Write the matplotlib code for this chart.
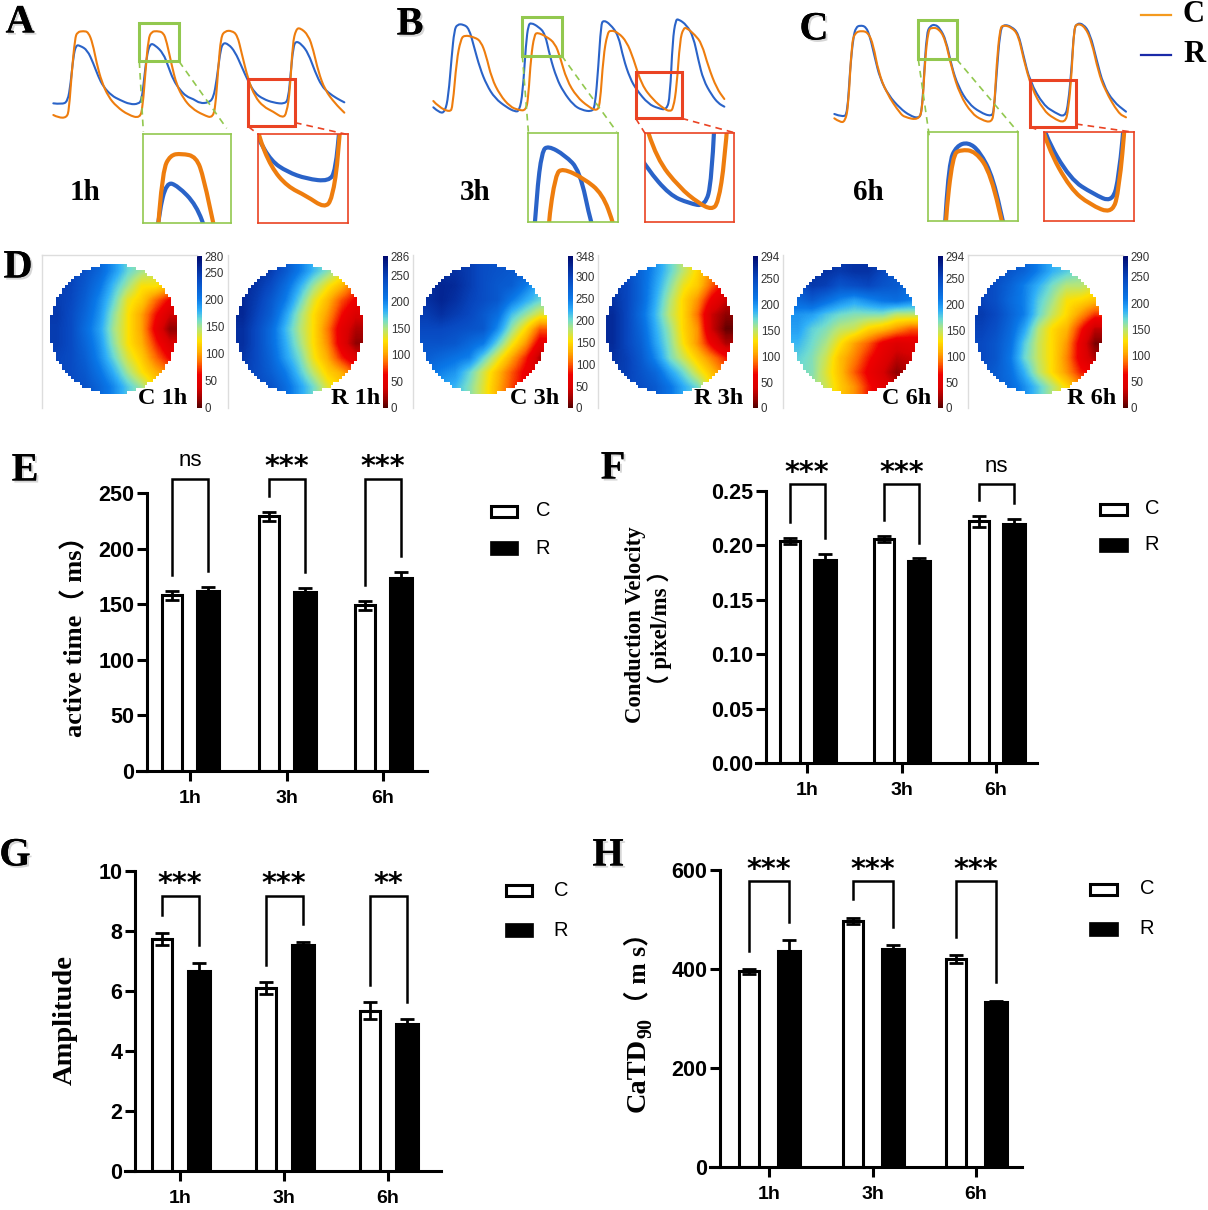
import numpy as np
import matplotlib
matplotlib.use('Agg')
import matplotlib.pyplot as plt
import matplotlib.patheffects as pe
from matplotlib.colors import LinearSegmentedColormap, ListedColormap
from matplotlib.patches import Rectangle, PathPatch
from matplotlib.path import Path

W, H = 1208, 1210

# traces (time, signal in arbitrary units, signal axis points down)
a_r_t = [160,185,203,212,220,228,240,262,280,295,310,335,360,390,415,425,432,440,450,465,490,505,520,540,560,580,600,625,640,650,660,668,685,705,725,745,765,790,820,855,865,872,880,888,905,925,945,965,985,1010,1033]
a_r_v = [310,313,305,250,170,135,137,150,190,230,260,287,300,313,312,300,240,170,130,135,160,200,240,270,290,297,310,308,295,240,160,128,132,155,200,245,280,297,308,312,295,220,140,123,133,160,215,258,278,295,307]
a_c_t = [160,175,200,207,215,225,232,250,265,278,290,305,325,350,385,420,428,436,445,455,470,490,500,515,530,550,575,610,640,648,655,663,675,695,712,725,745,765,790,820,848,860,870,878,888,900,925,940,955,975,1005,1033]
a_c_v = [345,353,353,330,220,115,96,93,96,130,190,245,290,320,345,355,320,220,115,95,93,97,125,195,255,295,325,345,355,300,200,110,93,92,105,160,240,290,320,335,354,340,270,130,88,83,105,150,215,270,310,338]

b_r_t = [100,120,135,145,155,163,172,190,207,222,240,260,285,320,345,358,368,378,385,393,415,435,450,470,490,520,545,575,585,595,603,610,630,655,670,690,710,745,775,800,810,818,827,835,860,880,895,910,935,955,973]
b_r_v = [322,340,335,290,170,90,73,73,85,140,205,255,295,322,335,333,280,130,75,68,80,100,170,235,275,315,330,335,320,200,75,60,72,105,175,235,270,312,325,330,290,120,60,57,75,110,180,240,285,310,320]
b_c_t = [100,115,150,158,170,182,192,225,243,258,275,300,330,355,378,385,393,403,412,440,465,480,500,530,565,590,600,610,622,632,655,680,700,725,760,790,810,820,830,840,850,860,885,905,925,950,973]
b_c_v = [303,320,337,320,180,120,105,112,125,165,235,285,320,330,332,290,170,105,97,110,130,170,240,290,320,333,315,170,100,90,98,125,175,255,300,325,335,325,260,120,85,83,105,130,200,265,297]

c_r_t = [133,160,172,180,190,198,210,228,240,255,270,295,330,360,385,395,402,410,420,435,450,468,485,505,535,570,605,612,620,630,640,665,685,700,720,760,795,825,835,845,852,860,880,900,920,940,970,1008]
c_r_v = [342,352,340,210,110,82,76,80,110,175,235,285,325,347,355,340,230,100,78,73,85,120,200,260,310,337,350,330,220,95,73,80,100,165,245,315,338,352,310,200,90,70,72,100,180,255,305,335]
c_c_t = [133,150,165,175,185,195,215,235,250,265,290,330,345,385,397,405,415,425,445,465,485,510,545,575,605,612,620,630,640,665,685,700,725,760,790,825,835,845,852,862,885,905,925,945,985,1008]
c_c_v = [355,367,365,320,130,98,92,98,135,215,280,340,352,360,330,180,90,83,85,115,205,285,340,360,368,335,190,85,75,82,105,175,265,330,355,370,330,220,85,70,80,125,215,270,340,352]

# bar panels
hours = ['1h', '3h', '6h']
e_c = [158, 229, 149]
e_c_err = [4, 4, 4]
e_r = [162, 161, 174]
e_r_err = [3.5, 3.5, 5]
f_c = [0.204, 0.206, 0.222]
f_c_err = [0.003, 0.003, 0.005]
f_r = [0.187, 0.186, 0.220]
f_r_err = [0.005, 0.002, 0.004]
g_c = [7.75, 6.1, 5.35]
g_c_err = [0.2, 0.2, 0.27]
g_r = [6.68, 7.55, 4.9]
g_r_err = [0.25, 0.1, 0.17]
h_c = [395, 497, 420]
h_c_err = [5, 6, 8]
h_r = [437, 440, 333]
h_r_err = [22, 8, 3]

# bracket: left foot, top, right foot per group, and the star text
e_brackets = [(176, 263, 180, 'ns'), (247, 263, 179, '***'), (167, 263, 193, '***')]
f_brackets = [(0.2215, 0.2565, 0.207, '***'), (0.223, 0.2565, 0.202, '***'), (0.242, 0.2565, 0.239, 'ns')]
g_brackets = [(8.53, 9.17, 7.53, '***'), (6.87, 9.17, 8.23, '***'), (6.2, 9.17, 5.63, '**')]
h_brackets = [(436, 577, 495, '***'), (541, 577, 484, '***'), (464, 577, 373, '***')]

# activation maps, 9 x 9 samples across the disc (ms)
map_c1 = [[240,240,230,215,190,165,150,140,130],
          [245,240,225,205,175,150,125,125,110],
          [245,238,220,195,165,130,115,85,60],
          [248,235,215,190,155,125,100,65,35],
          [245,235,210,185,150,125,100,55,15],
          [245,235,215,190,155,125,105,70,40],
          [240,235,220,195,165,135,115,85,60],
          [240,235,225,205,180,150,125,105,90],
          [240,235,230,215,195,170,150,120,100]]
map_r1 = [[265,260,250,230,205,180,160,140,125],
          [265,255,240,215,185,155,130,110,80],
          [265,250,230,205,170,135,110,80,60],
          [265,245,225,190,155,125,100,65,40],
          [260,240,215,180,150,125,90,50,25],
          [260,240,215,185,155,125,95,50,15],
          [255,240,220,190,165,130,105,70,45],
          [250,240,225,205,175,145,120,105,80],
          [245,240,235,215,190,165,135,120,100]]
map_c3 = [[310,315,315,305,290,285,280,275,250],
          [315,325,320,305,290,280,275,250,220],
          [315,325,315,300,290,280,250,225,205],
          [305,315,305,295,280,260,215,190,165],
          [295,295,290,285,280,240,190,150,100],
          [285,285,280,265,250,205,160,120,65],
          [275,265,255,245,205,165,125,85,30],
          [260,245,235,205,170,135,100,70,50],
          [240,230,220,195,165,130,95,70,60]]
map_r3 = [[255,245,225,200,175,150,125,100,85],
          [260,250,225,195,165,135,120,85,60],
          [265,250,225,190,155,125,100,60,35],
          [270,250,220,185,150,125,90,35,15],
          [270,250,225,190,160,125,100,35,5],
          [270,250,230,195,165,130,100,60,25],
          [265,255,235,205,170,145,120,95,70],
          [260,255,240,225,195,170,140,115,90],
          [250,250,245,235,215,190,170,130,110]]
map_c6 = [[250,265,265,260,265,265,250,235,230],
          [240,260,255,240,245,250,240,235,220],
          [225,235,220,205,195,205,215,220,210],
          [200,195,180,170,165,165,165,150,150],
          [195,175,165,150,145,125,115,100,85],
          [185,170,155,130,105,85,60,45,50],
          [175,165,145,115,95,70,50,30,35],
          [170,165,140,115,85,60,40,15,30],
          [165,160,145,120,100,70,50,35,35]]
map_r6 = [[250,245,235,225,205,185,175,165,150],
          [250,240,225,205,185,165,150,150,140],
          [250,240,220,205,175,155,130,125,115],
          [255,245,225,205,170,145,125,100,75],
          [250,240,220,190,150,125,110,70,30],
          [245,235,215,175,145,125,100,55,10],
          [245,235,210,170,145,125,95,55,25],
          [240,230,215,185,150,125,100,70,60],
          [235,230,220,200,175,150,125,100,90]]

map_max = [280, 286, 348, 294, 294, 290]
map_ticks = [[0,50,100,150,200,250,280], [0,50,100,150,200,250,286],
             [0,50,100,150,200,250,300,348], [0,50,100,150,200,250,294],
             [0,50,100,150,200,250,294], [0,50,100,150,200,250,290]]
map_labels = ['C 1h', 'R 1h', 'C 3h', 'R 3h', 'C 6h', 'R 6h']

ORANGE = '#ee7d0e'
BLUE = '#2a63c8'
GREEN = '#92c84f'
RED = '#ea4323'
SANS = ['Liberation Sans', 'DejaVu Sans']
SERIF = ['Liberation Serif', 'Noto Sans CJK SC', 'DejaVu Serif']

fig = plt.figure(figsize=(W / 100, H / 100), dpi=100)


def px_ax(x0, y0, x1, y1):
    ax = fig.add_axes([x0 / W, 1 - y1 / H, (x1 - x0) / W, (y1 - y0) / H])
    ax.patch.set_alpha(0)
    return ax


# overlay in picture pixels for letters, legends and captions
ov = px_ax(0, 0, W, H)
ov.set_xlim(0, W)
ov.set_ylim(H, 0)
ov.axis('off')
ov.set_zorder(10)


def letter(x, y, s):
    t = ov.text(x, y, s, family=SERIF, weight='bold', fontsize=29, ha='center', va='center')
    t.set_path_effects([pe.withSimplePatchShadow(offset=(1.5, -1.5), shadow_rgbFace='#999999', alpha=0.4), pe.Normal()])


def curve(ax, t, v, color, lw):
    # read points act as bezier controls, so the drawn line has no corners
    verts = [(t[0], v[0])]
    codes = [Path.MOVETO]
    for i in range(1, len(t) - 1):
        verts.append((t[i], v[i]))
        verts.append(((t[i] + t[i + 1]) / 2, (v[i] + v[i + 1]) / 2))
        codes += [Path.CURVE3, Path.CURVE3]
    verts.append((t[-1], v[-1]))
    codes.append(Path.LINETO)
    ax.add_patch(PathPatch(Path(verts, codes), fill=False, ec=color, lw=lw, capstyle='round', joinstyle='round'))


def trace_panel(ox, r_t, r_v, c_t, c_v, gbox, rbox, ginset, rinset, gdash, rdash, name, name_x):
    # panel coordinates are 3 units to a pixel
    ax = px_ax(ox, 0, ox + 418, 240)
    ax.set_xlim(0, 418 * 3)
    ax.set_ylim(720, 0)
    ax.axis('off')
    curve(ax, r_t, r_v, BLUE, 1.5)
    curve(ax, c_t, c_v, ORANGE, 1.5)
    for box, col in ((gbox, GREEN), (rbox, RED)):
        ax.add_patch(Rectangle((box[0], box[2]), box[1] - box[0], box[3] - box[2], fill=False, ec=col, lw=2.2))
    for seg in gdash:
        ax.plot(seg[0], seg[1], color=GREEN, lw=1.2, ls=(0, (4, 3)))
    for seg in rdash:
        ax.plot(seg[0], seg[1], color=RED, lw=1.2, ls=(0, (4, 3)))
    for box, ins, col in ((gbox, ginset, GREEN), (rbox, rinset, RED)):
        iax = px_ax(ox + ins[0] / 3, ins[2] / 3, ox + ins[1] / 3, ins[3] / 3)
        curve(iax, r_t, r_v, BLUE, 3)
        curve(iax, c_t, c_v, ORANGE, 3)
        iax.set_xlim(box[0], box[1])
        iax.set_ylim(box[3], box[2])
        iax.set_xticks([])
        iax.set_yticks([])
        for sp in iax.spines.values():
            sp.set_color(col)
            sp.set_linewidth(1.2)
    ov.text(name_x, 192, name, family=SERIF, weight='bold', fontsize=21, ha='center', va='center')


trace_panel(0, a_r_t, a_r_v, a_c_t, a_c_v,
            (418, 537, 68, 184), (745, 885, 238, 378), (428, 694, 403, 670), (775, 1045, 403, 670),
            [([418, 430], [184, 395]), ([537, 680], [184, 385])],
            [([885, 1040], [368, 403]), ([745, 775], [380, 403])], '1h', 85)
trace_panel(400, b_r_t, b_r_v, b_c_t, b_c_v,
            (367, 485, 52, 167), (707, 845, 215, 355), (385, 653, 400, 667), (735, 1003, 400, 667),
            [([367, 385], [167, 395]), ([485, 650], [167, 395])],
            [([845, 1003], [355, 398]), ([707, 735], [355, 400])], '3h', 475)
trace_panel(790, c_r_t, c_r_v, c_c_t, c_c_v,
            (383, 500, 60, 178), (720, 858, 241, 381), (415, 683, 397, 663), (763, 1032, 397, 663),
            [([385, 418], [178, 410]), ([500, 683], [178, 395])],
            [([858, 1032], [372, 397]), ([720, 745], [381, 390])], '6h', 868)

# top right legend of the traces
ov.plot([1141, 1171], [15, 15], color='#f49a1e', lw=1.6)
ov.plot([1141, 1171], [55, 55], color='#1a2aa8', lw=1.6)
ov.text(1194, 15, 'C', family=SERIF, weight='bold', fontsize=22, ha='center', va='center')
ov.text(1194, 55, 'R', family=SERIF, weight='bold', fontsize=22, ha='center', va='center')

# activation maps
cmap = LinearSegmentedColormap.from_list('act', [
    (0.0, '#500000'), (0.05, '#900000'), (0.13, '#d80000'), (0.22, '#f00000'), (0.30, '#ff6a00'),
    (0.37, '#ffb000'), (0.44, '#ffe000'), (0.52, '#b5e67a'), (0.58, '#70dcd0'),
    (0.64, '#30b0f8'), (0.72, '#0a78e8'), (0.85, '#0848c0'), (1.0, '#000a70')])
white = ListedColormap(['white'])
maps = [map_c1, map_r1, map_c3, map_r3, map_c6, map_r6]
disc_x = [(50, 177), (236, 362), (420, 547), (606, 733), (791, 917), (975, 1102)]
bar_x = [(197, 202), (383, 388), (568, 573), (753, 758), (938, 943), (1123, 1128)]
frame_x = [42, 228, 413, 598, 783, 968]
label_x = [163, 356, 535, 719, 907, 1092]

# stepped edge of the disc, about 3 px to a cell
n_cells = 43
yy, xx = np.mgrid[0:n_cells, 0:n_cells]
outside = np.hypot(xx - (n_cells - 1) / 2, yy - (n_cells - 1) / 2) > n_cells / 2

for i, m in enumerate(maps):
    x0, x1 = disc_x[i]
    ax = px_ax(x0, 264, x1, 394)
    im = ax.imshow(np.array(m, dtype=float), cmap=cmap, vmin=0, vmax=map_max[i],
                   interpolation='bilinear', aspect='auto', extent=[0, 1, 0, 1])
    ax.imshow(np.ma.masked_where(~outside, outside), cmap=white, interpolation='nearest',
              aspect='auto', extent=[0, 1, 0, 1])
    ax.axis('off')
    cax = px_ax(bar_x[i][0], 256, bar_x[i][1], 408)
    cb = fig.colorbar(im, cax=cax)
    cb.outline.set_visible(False)
    cb.set_ticks(map_ticks[i])
    cb.ax.tick_params(length=0, pad=2, labelsize=8.3, labelcolor='#333333')
    for t in cb.ax.get_yticklabels():
        t.set_family(SANS)
    ov.plot([frame_x[i], frame_x[i]], [255, 408], color='#dddddd', lw=1)
    ov.text(label_x[i], 398, map_labels[i], family=SERIF, weight='bold', fontsize=17.5, ha='center', va='center')
ov.plot([42, 197], [255, 255], color='#dddddd', lw=1)
ov.plot([968, 1123], [255, 255], color='#dddddd', lw=1)


def bar_panel(left, right, y0, ytop, ymax, yticks, yfmt, centre, step, off, c, c_err, r, r_err, brackets, star_y, ns_y):
    ax = px_ax(left, ytop, right, y0)
    ax.set_xlim((left - centre) / step, (right - centre) / step)
    ax.set_ylim(0, ymax)
    x = np.arange(3)
    w = 20 / step
    o = off / step
    ax.bar(x - o, c, w, color='white', edgecolor='black', linewidth=2.2, zorder=2)
    ax.bar(x + o, r, w + 2 / step, color='black', edgecolor='black', linewidth=2.2, zorder=2)
    ax.errorbar(x - o, c, yerr=c_err, fmt='none', ecolor='black', elinewidth=2, capsize=5, capthick=2, zorder=3)
    ax.errorbar(x + o, r, yerr=r_err, fmt='none', ecolor='black', elinewidth=2, capsize=5, capthick=2, zorder=3)
    for sp in ('top', 'right'):
        ax.spines[sp].set_visible(False)
    ax.spines['left'].set_linewidth(2.2)
    ax.spines['bottom'].set_linewidth(2.2)
    ax.spines['bottom'].set_bounds((left - 10 - centre) / step, (right - centre) / step)
    ax.spines['bottom'].set_clip_on(False)
    ax.set_xticks(x)
    ax.set_xticklabels(hours, family=SANS, weight='bold', fontsize=14)
    ax.set_yticks(yticks)
    ax.set_yticklabels([yfmt % v for v in yticks], family=SANS, weight='bold', fontsize=15.5)
    ax.tick_params(axis='both', width=2.2, length=7.5, pad=6.5)
    ax.tick_params(axis='y', pad=1.5)
    for i, (l, top, rf, s) in enumerate(brackets):
        ax.plot([i - o, i - o, i + o, i + o], [l, top, top, rf], color='black', lw=1.8, clip_on=False, solid_joinstyle='miter')
        if s == 'ns':
            ov.text(centre + i * step, ns_y, s, family=SANS, fontsize=16, ha='center', va='center')
        else:
            ov.text(centre + i * step, star_y, s, family='DejaVu Sans', weight='bold', fontsize=20.5, ha='center', va='center')


def legend(x0, x1, y_c, y_r, tx):
    ov.add_patch(Rectangle((x0, y_c - 5.5), x1 - x0, 11, fc='white', ec='black', lw=2.2))
    ov.add_patch(Rectangle((x0 - 1, y_r - 7), x1 - x0 + 2, 14, fc='black', ec='black', lw=0.5))
    ov.text(tx, y_c, 'C', family=SANS, fontsize=14.5, ha='center', va='center')
    ov.text(tx, y_r, 'R', family=SANS, fontsize=14.5, ha='center', va='center')


bar_panel(147, 427, 771, 493, 250, [0, 50, 100, 150, 200, 250], '%d', 190, 96.5, 18, e_c, e_c_err, e_r, e_r_err, e_brackets, 467, 460)
legend(491, 517, 511, 548, 543)
ov.text(75, 630, 'active time（ ms）', family=SERIF, weight='bold', fontsize=19, rotation=90, ha='center', va='center')

bar_panel(766, 1037, 763, 491, 0.25, [0, 0.05, 0.10, 0.15, 0.20, 0.25], '%.2f', 807, 94.5, 17.5, f_c, f_c_err, f_r, f_r_err, f_brackets, 473, 466)
legend(1100, 1127, 509, 545, 1152)
ov.text(636, 625, 'Conduction Velocity', family=SERIF, weight='bold', fontsize=16.4, rotation=90, ha='center', va='center')
ov.text(660, 628, '（ pixel/ms ）', family=SERIF, weight='bold', fontsize=16.4, rotation=90, ha='center', va='center')

bar_panel(135, 441, 1171, 871, 10, [0, 2, 4, 6, 8, 10], '%d', 180, 104, 18.5, g_c, g_c_err, g_r, g_r_err, g_brackets, 884, 884)
legend(506, 532, 890, 930, 561)
ov.text(65, 1020, 'Amplitude', family=SERIF, weight='bold', fontsize=20.5, rotation=90, ha='center', va='center')

bar_panel(720, 1022, 1167, 870, 600, [0, 200, 400, 600], '%d', 769, 103.5, 20, h_c, h_c_err, h_r, h_r_err, h_brackets, 870, 870)
legend(1090, 1117, 889, 929, 1147)
ov.text(638, 1112, 'CaTD', family=SERIF, weight='bold', fontsize=20.4, rotation=90, ha='center', va='bottom')
ov.text(646, 1038, '90', family=SERIF, weight='bold', fontsize=14.5, rotation=90, ha='center', va='bottom')
ov.text(638, 1016, '（ m s）', family=SERIF, weight='bold', fontsize=18.5, rotation=90, ha='center', va='bottom')

for (lx, ly, s) in [(20, 23, 'A'), (410, 25, 'B'), (814, 30, 'C'), (18, 268, 'D'),
                    (25, 471, 'E'), (613, 469, 'F'), (15, 856, 'G'), (608, 856, 'H')]:
    letter(lx, ly, s)

fig.savefig('out.png', dpi=100)
